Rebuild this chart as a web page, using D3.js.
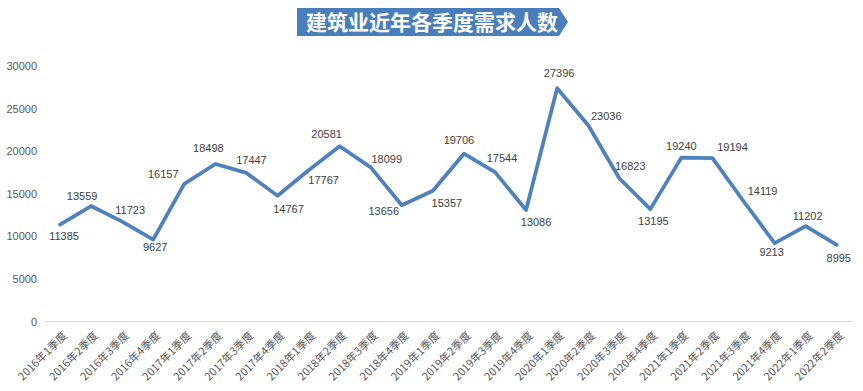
<!DOCTYPE html>
<html>
<head>
<meta charset="utf-8">
<script src="https://cdn.jsdelivr.net/npm/d3@7"></script>
<style>
  html, body { margin: 0; padding: 0; background: #fff; }
  svg { display: block; }
</style>
</head>
<body>
<svg id="chart" width="863" height="391"></svg>
<script>
const title = "建筑业近年各季度需求人数";
const categories = [
  "2016年1季度","2016年2季度","2016年3季度","2016年4季度",
  "2017年1季度","2017年2季度","2017年3季度","2017年4季度",
  "2018年1季度","2018年2季度","2018年3季度","2018年4季度",
  "2019年1季度","2019年2季度","2019年3季度","2019年4季度",
  "2020年1季度","2020年2季度","2020年3季度","2020年4季度",
  "2021年1季度","2021年2季度","2021年3季度","2021年4季度",
  "2022年1季度","2022年2季度"
];
const values = [
  11385, 13559, 11723, 9627,
  16157, 18498, 17447, 14767,
  17767, 20581, 18099, 13656,
  15357, 19706, 17544, 13086,
  27396, 23036, 16823, 13195,
  19240, 19194, 14119, 9213,
  11202, 8995
];
const yTicks = [0, 5000, 10000, 15000, 20000, 25000, 30000];

// label offsets (dx, dy of label center from the point)
const labelOffsets = [
  [4, 12], [-9, -10], [8, -12], [2, 8],
  [-21, -10], [-7, -16], [5, -13], [11, 13],
  [15, 10], [-13, -12], [16, -8], [-18, 6],
  [14, 12], [-5, -14], [7, -14], [10, 12],
  [2, -15], [18, -9], [11, -12], [3, 12],
  [0, -11], [20, -11], [19, -10], [-3, 9],
  [2, -10], [2, 13]
];

(function () {
const svg = d3.select("#chart");
const pLeft = 44.5, pRight = 852.3, pTop = 66, pBottom = 321.5;

const x = d3.scaleBand().domain(categories).range([pLeft, pRight]).padding(0);
const y = d3.scaleLinear().domain([0, 30000]).range([pBottom, pTop]);
const cx = d => x(d) + x.bandwidth() / 2;

// Title banner
const bx0 = 297, bx1 = 559, btip = 568, by0 = 8, by1 = 36;
svg.append("path")
  .attr("d", `M${bx0},${by0} L${bx1},${by0} L${btip},${(by0 + by1) / 2} L${bx1},${by1} L${bx0},${by1} Z`)
  .attr("fill", "#4a7ebb");
svg.append("text")
  .attr("x", 432)
  .attr("y", (by0 + by1) / 2)
  .attr("dy", "0.36em")
  .attr("text-anchor", "middle")
  .attr("font-family", "'Noto Sans CJK SC', sans-serif")
  .attr("font-weight", "bold")
  .attr("font-size", 21)
  .attr("fill", "#ffffff")
  .text(title);

// Y axis labels
const yAxis = d3.axisLeft(y).tickValues(yTicks).tickSize(0).tickPadding(0).tickFormat(d3.format("d"));
const yg = svg.append("g").attr("transform", `translate(37,0)`).call(yAxis);
yg.select(".domain").remove();
yg.selectAll("text")
  .attr("font-family", "'Liberation Sans', Arial, sans-serif")
  .attr("font-size", 11)
  .attr("fill", "#595959");

// baseline
svg.append("line")
  .attr("x1", 46).attr("x2", 853)
  .attr("y1", y(0)).attr("y2", y(0))
  .attr("stroke", "#d9d9d9").attr("stroke-width", 1);

// X axis labels
const xAxis = d3.axisBottom(x).tickSize(0).tickPadding(0);
const xg = svg.append("g").attr("transform", `translate(0,${pBottom})`).call(xAxis);
xg.select(".domain").remove();
xg.selectAll(".tick text")
  .attr("font-family", "'Noto Sans CJK SC', 'Liberation Sans', sans-serif")
  .attr("font-size", 11)
  .attr("fill", "#595959")
  .attr("text-anchor", "end")
  .attr("x", 0).attr("y", 0).attr("dy", "0.35em")
  .attr("transform", "translate(5,12) rotate(-45)");

// Line
const line = d3.line()
  .x((d, i) => cx(categories[i]))
  .y(d => y(d));
svg.append("path")
  .datum(values)
  .attr("d", line)
  .attr("fill", "none")
  .attr("stroke", "#4f81bd")
  .attr("stroke-width", 3.75)
  .attr("stroke-linejoin", "round")
  .attr("stroke-linecap", "round");

// Data labels
svg.append("g").selectAll("text")
  .data(values)
  .join("text")
  .attr("x", (d, i) => cx(categories[i]) + labelOffsets[i][0])
  .attr("y", (d, i) => y(d) + labelOffsets[i][1])
  .attr("dy", "0.35em")
  .attr("text-anchor", "middle")
  .attr("font-family", "'Liberation Sans', Arial, sans-serif")
  .attr("font-size", 11)
  .attr("fill", "#404040")
  .text(d => d);
})();
</script>
</body>
</html>
